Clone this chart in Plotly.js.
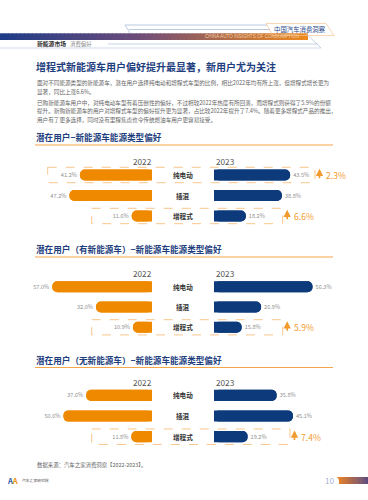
<!DOCTYPE html>
<html><head><meta charset="utf-8">
<script src="https://cdn.plot.ly/plotly-3.0.1.min.js"></script>
<style>html,body{margin:0;padding:0;background:#fff;}#chart{width:368px;height:500px;}</style>
</head><body><div id="chart"></div>
<script>
// ---------- DATA ----------
const categories = ['纯电动', '插混', '增程式'];
const years = ['2022', '2023'];
const panelTitles = [
  '潜在用户−新能源车能源类型偏好',
  '潜在用户（有新能源车）−新能源车能源类型偏好',
  '潜在用户（无新能源车）−新能源车能源类型偏好'
];
const share2022_all = [41.2, 47.2, 11.6];
const share2023_all = [43.5, 38.8, 18.2];
const share2022_owner = [57.0, 32.0, 10.9];
const share2023_owner = [56.3, 26.9, 15.8];
const share2022_new = [37.6, 50.6, 11.8];
const share2023_new = [35.8, 45.1, 19.2];
const growth_all = [2.3, null, 6.6];
const growth_owner = [null, null, 5.9];
const growth_new = [null, null, 7.4];

const pageTitle = '增程式新能源车用户偏好提升最显著，新用户尤为关注';
const paragraphLines = [
  '面对不同能源类型的新能源车，潜在用户选择纯电动和增程式车型的比例，相比2022年均有所上涨，但增程式增长更为',
  '显著，同比上涨6.6%。',
  '已购新能源车用户中，对纯电动车型有着压倒性的偏好，不过相较2022年热度有所回落，而增程式则获得了5.9%的份额',
  '提升。新购新能源车的用户对增程式车型的偏好提升更为显著，占比较2022年提升了7.4%。随着更多增程式产品的推出，',
  '用户有了更多选择，同时没有里程焦虑也令传统燃油车用户更容易接受。'
];
const sourceNote = '数据来源：汽车之家消费洞察【2022-2023】。';

// ---------- LAYOUT HELPERS ----------
const W = 368, H = 500;
const P = x => x / W;
const Q = y => 1 - y / H;
const FONT = '"Noto Sans CJK SC", "Noto Sans", sans-serif';
const ORANGE = '#EF8A00', NAVY = '#0C3A7A', TITLE = '#1E3E7E', ACC = '#F29A2E';

const panels = [
  {v22: share2022_all, v23: share2023_all, g: growth_all, title: panelTitles[0], titleY: 137, yearY: 161.5, rowTop: 175, rowBot: 216,
   boxes: {0: [47.7, 315], 2: [91.7, 282.7]}},
  {v22: share2022_owner, v23: share2023_owner, g: growth_owner, title: panelTitles[1], titleY: 249, yearY: 272.5, rowTop: 286.7, rowBot: 327.3,
   boxes: {2: [91.7, 282.7]}},
  {v22: share2022_new, v23: share2023_new, g: growth_new, title: panelTitles[2], titleY: 359.5, yearY: 381.5, rowTop: 395.3, rowBot: 436.7,
   boxes: {2: [91.7, 290]}}
];

const PXPER = 1.75, RANGE = 80, BASE_L = 152, BASE_R = 214;
const traces = [], shapes = [], annotations = [];
const layout = {
  width: W, height: H, margin: {l: 0, r: 0, t: 0, b: 0},
  paper_bgcolor: '#fff', plot_bgcolor: 'rgba(0,0,0,0)',
  showlegend: false, barmode: 'overlay',
  font: {family: FONT}
};

function ann(text, x, y, size, color, opts) {
  annotations.push(Object.assign({text, x: P(x), y: Q(y), xref: 'paper', yref: 'paper',
    xanchor: 'left', yanchor: 'middle', showarrow: false,
    font: {family: FONT, size, color}}, opts || {}));
}
function line(x0, y0, x1, y1, color, w) {
  shapes.push({type: 'line', xref: 'paper', yref: 'paper', x0: P(x0), y0: Q(y0), x1: P(x1), y1: Q(y1),
    line: {color, width: w}});
}

panels.forEach((pn, i) => {
  const xl = 'x' + (2 * i + 1), xr = 'x' + (2 * i + 2), yy = 'y' + (i + 1);
  const xlKey = 'xaxis' + (2 * i + 1 === 1 ? '' : 2 * i + 1);
  const xrKey = 'xaxis' + (2 * i + 2);
  const yKey = 'yaxis' + (i + 1 === 1 ? '' : i + 1);
  const step = (pn.rowBot - pn.rowTop) / 2;
  const top = pn.rowTop - step / 2, bot = pn.rowBot + step / 2;
  layout[yKey] = {type: 'category', categoryarray: categories, range: [2.5, -0.5],
    domain: [Q(bot), Q(top)], visible: false, anchor: xl, fixedrange: true};
  layout[xlKey] = {range: [RANGE, 0], domain: [P(BASE_L - RANGE * PXPER), P(BASE_L)], visible: false, anchor: yy};
  layout[xrKey] = {range: [0, RANGE], domain: [P(BASE_R), P(BASE_R + RANGE * PXPER)], visible: false, anchor: yy};

  [[pn.v22, xl, ORANGE], [pn.v23, xr, NAVY]].forEach(([vals, xa, col]) => {
    // reverse full-length bar (rounds the base end)
    traces.push({type: 'bar', orientation: 'h', y: categories, x: vals.map(v => -v), base: vals,
      xaxis: xa, yaxis: yy, width: 0.54, marker: {color: col, cornerradius: '50%', line: {width: 0}}, hoverinfo: 'skip'});
    // forward full-length bar (rounds the value end) + label
    traces.push({type: 'bar', orientation: 'h', y: categories, x: vals,
      xaxis: xa, yaxis: yy, width: 0.54, marker: {color: col, cornerradius: '50%', line: {width: 0}},
      text: vals.map(v => v.toFixed(1) + '%'), textposition: 'outside', cliponaxis: false, constraintext: 'none',
      textfont: {family: FONT, size: 5.6, color: '#8f8f8f'}, hoverinfo: 'skip'});
  });

  // category labels
  categories.forEach(c => {
    annotations.push({text: '<b>' + c + '</b>', x: P(183), y: c, xref: 'paper', yref: yy, showarrow: false,
      xanchor: 'center', yanchor: 'middle', font: {family: FONT, size: 6.6, color: '#333'}});
  });
  // year labels
  ann(years[0], 153.5, pn.yearY, 8.2, '#555', {xanchor: 'right'});
  ann(years[1], 213.5, pn.yearY, 8.2, '#555');
  // section title and underline
  ann('<b>' + pn.title + '</b>', 34, pn.titleY, 8.6, TITLE);
  line(35, pn.titleY + 8, 333, pn.titleY + 8, '#F5A54A', 1.2);

  // dashed boxes and growth arrows
  Object.keys(pn.boxes).forEach(k => {
    const idx = +k, [bx0, bx1] = pn.boxes[k];
    shapes.push({type: 'rect', xref: 'paper', yref: yy, x0: P(bx0), x1: P(bx1), y0: idx - 0.375, y1: idx + 0.375,
      line: {color: '#F6B86E', width: 0.8, dash: 'dash'}, fillcolor: 'rgba(0,0,0,0)'});
    if (pn.g[idx] != null) {
      annotations.push({text: '', x: P(bx1 + 4.5), y: idx - 0.3, xref: 'paper', yref: yy, showarrow: true,
        ax: 0, ay: 11, arrowhead: 2, arrowsize: 0.9, arrowwidth: 1.6, arrowcolor: ACC, standoff: 0, startstandoff: 0});
      annotations.push({text: pn.g[idx].toFixed(1) + '%', x: P(bx1 + 9), y: categories[idx], xref: 'paper', yref: yy,
        showarrow: false, xanchor: 'left', yanchor: 'middle', font: {family: FONT, size: 8.6, color: ACC}});
    }
  });
});

// ---------- HEADER ----------
function lerp(a, b, t) { return Math.round(a + (b - a) * t); }
function grad(t) {
  const stops = [[0, [30, 60, 136]], [0.45, [110, 76, 122]], [1, [238, 138, 30]]];
  for (let s = 0; s < stops.length - 1; s++) {
    const [t0, c0] = stops[s], [t1, c1] = stops[s + 1];
    if (t <= t1) { const u = (t - t0) / (t1 - t0);
      return 'rgb(' + lerp(c0[0], c1[0], u) + ',' + lerp(c0[1], c1[1], u) + ',' + lerp(c0[2], c1[2], u) + ')'; }
  }
}
const GX = 308, NSL = 77;
for (let k = 0; k < NSL; k++) {
  const x0 = GX * k / NSL, x1 = GX * (k + 1) / NSL + 0.6;
  shapes.push({type: 'rect', xref: 'paper', yref: 'paper', x0: P(x0), x1: P(Math.min(x1, GX)), y0: Q(40), y1: Q(33.3),
    fillcolor: grad((k + 0.5) / NSL), line: {width: 0}, layer: 'below'});
}
line(125, 25, 267, 25, '#A9BCD8', 0.8);
line(125, 25, 130, 33, '#A9BCD8', 0.8);
line(129, 29.5, 270, 29.5, '#A9BCD8', 0.8);
shapes.push({type: 'path', xref: 'paper', yref: 'paper',
  path: `M ${P(266)} ${Q(23.5)} L ${P(326)} ${Q(23.5)} L ${P(334)} ${Q(35.5)} L ${P(273)} ${Q(35.5)} Z`,
  line: {color: '#F6C690', width: 0.7}, fillcolor: 'rgba(0,0,0,0)'});
line(108, 44, 318, 44, '#B8C8E0', 0.8);
line(0, 48, 321, 48, '#C8D4E8', 0.8);
line(306, 33.5, 321, 48, '#B8C8E0', 0.8);
ann('中国汽车消费洞察', 271.5, 29, 6.4, '#2B4A8A');
ann('CHINA AUTO INSIGHTS OF CONSUMPTION', 203, 37, 4.6, '#F7CDA0', {font: {family: '"Liberation Sans Narrow", "Liberation Sans", sans-serif', size: 4.6, color: '#F7CDA0'}});
ann('<b>新能源市场</b>', 34.5, 44, 5.8, '#333');
ann('消费偏好', 68, 44, 5.4, '#888');

// ---------- TEXT ----------
ann('<b>' + pageTitle + '</b>', 34, 66, 10, TITLE);
const lineYs = [83.3, 91.5, 103.3, 111.3, 119.5];
paragraphLines.forEach((t, k) => ann(t, 34.5, lineYs[k], 5.6, '#666'));

// ---------- FOOTER ----------
ann(sourceNote, 34.5, 465, 5.4, '#666');
ann('<b>A<span style="color:#F08A00">A</span></b>', 5, 480, 7.5, '#2456A4');
ann('汽车之家研究院', 19.5, 480, 3.8, '#555');
ann('10', 323, 480, 8, '#9FB3D6');
for (let k = 0; k < 16; k++) {
  const t = k / 16, x0 = 337 + 31 * t, x1 = 337 + 31 * (k + 1) / 16 + 0.5;
  const c = 'rgb(' + lerp(236, 84, t) + ',' + lerp(132, 70, t) + ',' + lerp(40, 130, t) + ')';
  const xl = k === 0 ? 342 : x0;
  shapes.push({type: 'path', xref: 'paper', yref: 'paper',
    path: `M ${P(k === 0 ? 337 : x0)} ${Q(477)} L ${P(Math.min(x1, 368))} ${Q(477)} L ${P(Math.min(x1, 368))} ${Q(484)} L ${P(xl)} ${Q(484)} Z`,
    fillcolor: c, line: {width: 0}});
}

layout.shapes = shapes;
layout.annotations = annotations;
Plotly.newPlot('chart', traces, layout, {displayModeBar: false, staticPlot: true});
</script></body></html>
